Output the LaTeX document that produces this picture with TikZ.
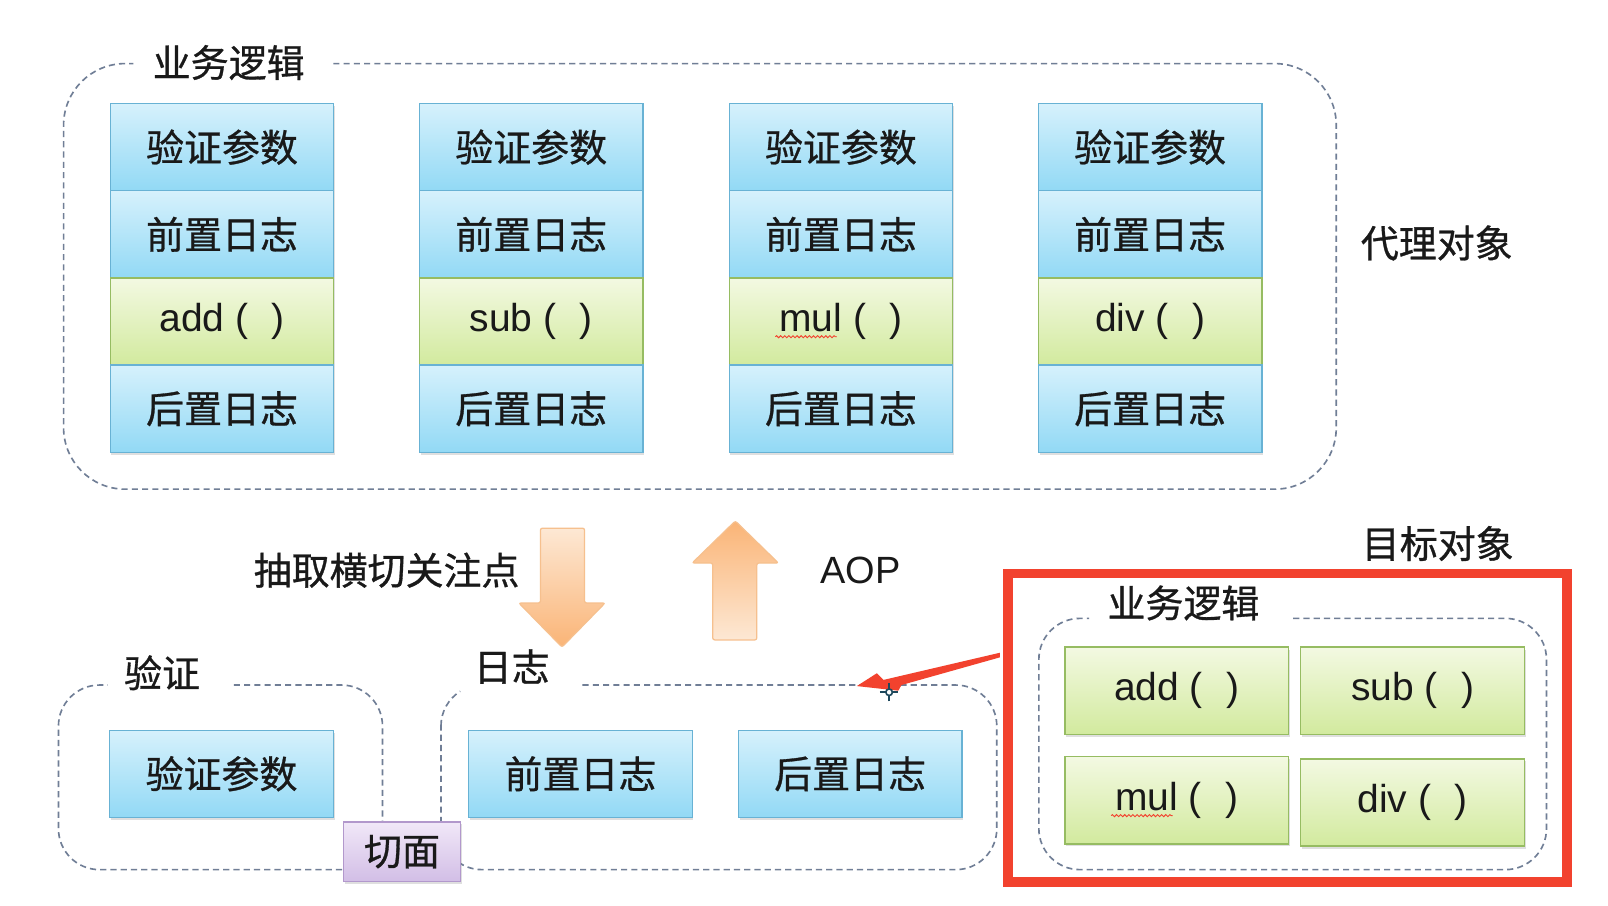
\documentclass[tikz,border=0pt]{standalone}
\usepackage{fontspec}
\setmainfont{Liberation Sans}
\newfontfamily\cjk{Noto Sans CJK SC}[FakeBold=0.8]
\usetikzlibrary{shadows,decorations.pathmorphing}

\definecolor{bluetop}{RGB}{214,241,252}
\definecolor{bluebot}{RGB}{146,217,245}
\definecolor{blueedge}{RGB}{104,178,212}
\definecolor{greentop}{RGB}{243,249,226}
\definecolor{greenbot}{RGB}{210,234,158}
\definecolor{greenedge}{RGB}{150,188,98}
\definecolor{purptop}{RGB}{241,232,248}
\definecolor{purpbot}{RGB}{210,190,230}
\definecolor{purpedge}{RGB}{178,152,204}
\definecolor{orangedark}{RGB}{250,180,118}
\definecolor{orangelight}{RGB}{253,232,212}
\definecolor{orangeedge}{RGB}{246,192,142}
\definecolor{dashgray}{RGB}{112,126,150}
\definecolor{markred}{RGB}{242,66,46}
\definecolor{ink}{RGB}{25,25,25}
\definecolor{cursorc}{RGB}{30,72,92}

\newcommand{\fn}[1]{#1 (\hspace{0.6em})\hspace{0.3em}}

\tikzset{
  box/.style={minimum width=109pt, minimum height=42.5pt, inner sep=0pt,
    line width=0.6pt, text=ink,
    drop shadow={shadow xshift=0.6pt, shadow yshift=-1.2pt, opacity=0.25}},
  bluebox/.style={box, draw=blueedge, top color=bluetop, bottom color=bluebot,
    font=\cjk\fontsize{18.5}{20}\selectfont},
  greenbox/.style={box, draw=greenedge, top color=greentop, bottom color=greenbot,
    font=\fontsize{19}{21}\selectfont},
  aspectbox/.style={box, minimum width=57pt, minimum height=29pt, draw=purpedge,
    top color=purptop, bottom color=purpbot, font=\cjk\fontsize{18.5}{20}\selectfont},
  label/.style={text=ink, inner sep=0pt, font=\cjk\fontsize{18.5}{20}\selectfont},
  latinlabel/.style={text=ink, inner sep=0pt, font=\fontsize{18.5}{20}\selectfont},
  group/.style={draw=dashgray, line width=0.8pt, dash pattern=on 3pt off 2pt},
  fatarrow/.style={draw=orangeedge, line width=0.6pt, rounded corners=1pt},
  squiggle/.style={markred, line width=0.45pt, decorate,
    decoration={snake, amplitude=0.5pt, segment length=2pt}},
}

\begin{document}
\begin{tikzpicture}[x=0.5pt, y=-0.5pt]
  % canvas
  \fill[white] (0,0) rectangle (1568,883);
  \useasboundingbox (0,0) rectangle (1568,883);

  % ---------- proxy objects ----------
  \draw[group, rounded corners=30pt] (325,62) -- (1303,62) -- (1303,477)
    -- (62,477) -- (62,62) -- (130,62);
  \node[label] (proxytitle) at (223,61) {业务逻辑};

  \foreach \col/\cx/\f in {1/216.5/add, 2/518/sub, 3/820/mul, 4/1121.5/div} {
    \node[bluebox]  (v\col) at (\cx,143.5) {验证参数};
    \node[bluebox]  (b\col) at (\cx,228.5) {前置日志};
    \node[greenbox] (m\col) at (\cx,313.5) {\fn{\f}};
    \node[bluebox]  (a\col) at (\cx,398.5) {后置日志};
  }
  \draw[squiggle] ([xshift=-32pt,yshift=-2.5pt]m3.base) -- ([xshift=-2pt,yshift=-2.5pt]m3.base);

  \node[label] (proxy) at (1401,237) {代理对象};

  % ---------- extraction / weaving arrows ----------
  \node[label] (extract) at (377,556) {抽取横切关注点};
  \path[fatarrow, top color=orangelight, bottom color=orangedark]
    (527,515) -- (570,515) -- (570,588) -- (590,588) -- (548,631)
    -- (506,588) -- (527,588) -- cycle;
  \path[fatarrow, top color=orangedark, bottom color=orangelight]
    (717,508) -- (759,549) -- (738,549) -- (738,624) -- (695,624)
    -- (695,549) -- (675,549) -- cycle;
  \node[latinlabel] (aop) at (839,556) {AOP};

  % ---------- aspects ----------
  \draw[group, rounded corners=20pt] (228,668) -- (373,668) -- (373,848)
    -- (57,848) -- (57,668) -- (105,668);
  \node[label] (checktitle) at (158,656) {验证};
  \node[bluebox] (check) at (216,754.5) {验证参数};

  \draw[group, rounded corners=20pt] (568,668) -- (972,668) -- (972,848)
    -- (430,848) -- (430,708);
  \draw[group] (430,708) .. controls (430,694.2) and (437.1,681.4) .. (448.8,674.1);
  \node[label] (logtitle) at (499,650) {日志};
  \node[bluebox] (before) at (566,754.5) {前置日志};
  \node[bluebox] (after)  at (829,754.5) {后置日志};

  \node[aspectbox] (aspect) at (392,830.5) {切面};

  % ---------- target object ----------
  \node[label] (target) at (1402,530) {目标对象};
  \draw[markred, line width=4.6pt] (983,559.5) rectangle (1528,860);
  \draw[group, rounded corners=20pt] (1261,603) -- (1508,603) -- (1508,848)
    -- (1013,848) -- (1013,603) -- (1062,603);
  \node[label] (targettitle) at (1154,588) {业务逻辑};
  \node[greenbox] (tadd) at (1147.5,673.5) {\fn{add}};
  \node[greenbox] (tsub) at (1377.5,673.5) {\fn{sub}};
  \node[greenbox] (tmul) at (1147.5,780.5) {\fn{mul}};
  \node[greenbox] (tdiv) at (1377.5,782.5) {\fn{div}};
  \draw[squiggle] ([xshift=-32pt,yshift=-2.5pt]tmul.base) -- ([xshift=-2pt,yshift=-2.5pt]tmul.base);

  % ---------- annotation arrow and pointer ----------
  \fill[markred] (975,636.5) -- (975,641) -- (879,668) -- (876,673.5)
    -- (835.5,669) -- (855,656.5) -- (861.5,663) -- cycle;
  \coordinate (cursor) at (867,675);
  \draw[cursorc, line width=0.8pt] (cursor) circle[radius=1.6pt];
  \draw[cursorc, line width=0.8pt]
    ([xshift=-4.5pt]cursor) -- ([xshift=-1.6pt]cursor)
    ([xshift=1.6pt]cursor) -- ([xshift=4.5pt]cursor)
    ([yshift=-4.5pt]cursor) -- ([yshift=-1.6pt]cursor)
    ([yshift=1.6pt]cursor) -- ([yshift=4.5pt]cursor);
\end{tikzpicture}
\end{document}
